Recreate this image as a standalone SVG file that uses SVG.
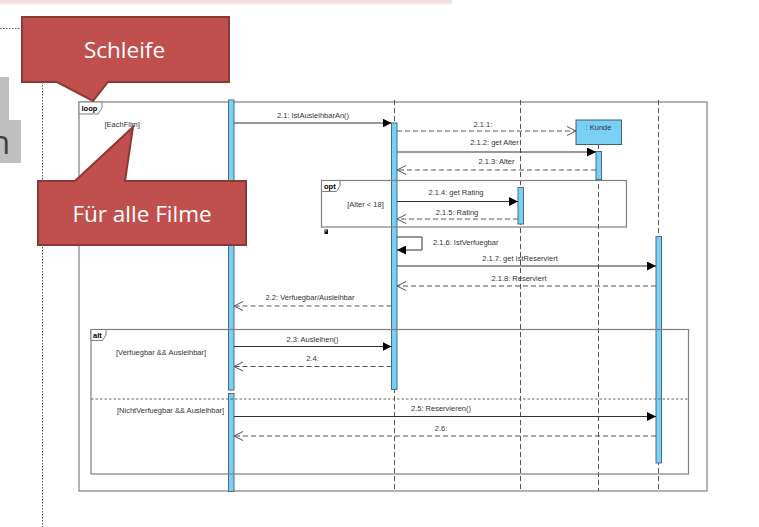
<svg xmlns="http://www.w3.org/2000/svg" width="759" height="527" viewBox="0 0 759 527">
<defs>
<style>
.frame{fill:none;stroke:#7f7f7f;stroke-width:1.2}
.tab{fill:#fff;stroke:#7f7f7f;stroke-width:1}
.tabt{font-family:"Liberation Sans",Arial,sans-serif;font-size:7.5px;font-weight:bold;fill:#000}
.lbl{font-family:"Liberation Sans",Arial,sans-serif;font-size:7.5px;fill:#333;text-anchor:middle}
.lbll{font-family:"Liberation Sans",Arial,sans-serif;font-size:7.5px;fill:#333}
.life{stroke:#555;stroke-width:1;stroke-dasharray:5 3;fill:none}
.bar{fill:#7acff5;stroke:#4a6f85;stroke-width:1}
.sync{stroke:#333;stroke-width:1;fill:none;marker-end:url(#filled)}
.reply{stroke:#555;stroke-width:1;stroke-dasharray:5 3;fill:none;marker-end:url(#open)}
.call{fill:#c0504d;stroke:#8c3836;stroke-width:2}
.callt{font-family:"Open Sans","Noto Sans",sans-serif;font-size:22.5px;fill:#fff;text-anchor:middle}
</style>
<marker id="filled" viewBox="0 0 10 10" refX="10" refY="5" markerWidth="9" markerHeight="9" markerUnits="userSpaceOnUse" orient="auto">
<path d="M0,0 L10,5 L0,10 Z" fill="#000"/>
</marker>
<marker id="open" viewBox="0 0 10 10" refX="0" refY="5" markerWidth="9" markerHeight="9" markerUnits="userSpaceOnUse" orient="auto-start-reverse">
<path d="M10,0 L0,5 L10,10" fill="none" stroke="#555" stroke-width="1"/>
</marker>
</defs>
<rect width="759" height="527" fill="#fff"/>
<rect x="0" y="0" width="452" height="3" fill="#f2dede"/>
<rect x="0" y="3" width="452" height="2" fill="#f9eeee"/>

<g id="background-left">
<path d="M0,28.5 H42.5 V527" fill="none" stroke="#555" stroke-width="1" stroke-dasharray="1.5 1.5"/>
<path d="M0,77 H9 V120 H21 V163 H0 Z" fill="#bfbfbf"/>
<text x="-10" y="154" font-family="Open Sans, Noto Sans, sans-serif" font-size="33" fill="#404040">n</text>
</g>

<g id="loop-frame">
<rect class="frame" x="79" y="102" width="628" height="389"/>
<path class="tab" d="M79,102 H102 V108 L98,114 H79 Z"/>
<text class="tabt" x="81.5" y="111">loop</text>
<text class="lbll" x="104.5" y="127">[EachFilm]</text>
</g>

<g id="lifeline-1">
<rect class="bar" x="228.5" y="100" width="5.5" height="290"/>
<rect class="bar" x="228.5" y="393.5" width="5.5" height="98"/>
</g>
<g id="lifeline-2">
<line class="life" x1="394.5" y1="100" x2="394.5" y2="491"/>
<rect class="bar" x="391.5" y="123" width="5.5" height="266.5"/>
</g>
<g id="lifeline-3">
<line class="life" x1="520.5" y1="100" x2="520.5" y2="491"/>
<rect class="bar" x="518" y="187.5" width="5.5" height="36.5"/>
</g>
<g id="lifeline-kunde">
<line class="life" x1="598.5" y1="144" x2="598.5" y2="491"/>
<rect x="576" y="120" width="45.5" height="24.5" fill="#7acff5" stroke="#3f5f7a" stroke-width="1"/>
<text class="lbl" x="598.5" y="129.5">: Kunde</text>
<rect class="bar" x="596" y="151.5" width="5.5" height="28"/>
</g>
<g id="lifeline-5">
<line class="life" x1="658.5" y1="100" x2="658.5" y2="491"/>
<rect class="bar" x="656" y="236.5" width="5.5" height="226.5"/>
</g>

<g id="opt-frame">
<rect class="frame" x="321.5" y="180.5" width="305" height="46.5" fill="none"/>
<path class="tab" d="M321.5,180.5 H340 V186 L336.5,191.5 H321.5 Z"/>
<text class="tabt" x="324" y="189">opt</text>
<text class="lbl" x="365.5" y="206.5">[Alter &lt; 18]</text>
<rect x="324.5" y="229.5" width="3.5" height="4.5" fill="#111"/>
<rect x="325.3" y="230.2" width="1.2" height="1.2" fill="#fff"/>
</g>

<g id="alt-frame">
<rect class="frame" x="91" y="329.5" width="597.5" height="144.5"/>
<path class="tab" d="M91,329.5 H106 V335 L102.5,340.5 H91 Z"/>
<text class="tabt" x="93" y="338">alt</text>
<line x1="91" y1="399" x2="688.5" y2="399" stroke="#666" stroke-width="1" stroke-dasharray="2.5 2"/>
<text class="lbll" x="116" y="355">[Verfuegbar &amp;&amp; Ausleihbar]</text>
<text class="lbll" x="117" y="413">[NichtVerfuegbar &amp;&amp; Ausleihbar]</text>
</g>

<g id="connectors">
<line class="sync" x1="234" y1="123" x2="391.5" y2="123"/>
<text class="lbl" x="313" y="118">2.1: IstAusleihbarAn()</text>
<line class="reply" x1="397" y1="131" x2="576" y2="131" marker-end="url(#open)" style="marker-end:none"/>
<path d="M567,126.5 L576,131 L567,135.5" fill="none" stroke="#555" stroke-width="1"/>
<text class="lbl" x="483" y="127">2.1.1:</text>
<line class="sync" x1="397" y1="152" x2="596" y2="152"/>
<text class="lbl" x="494.5" y="145">2.1.2: get Alter</text>
<line class="reply" x1="596" y1="170" x2="397" y2="170" style="marker-end:none"/>
<path d="M406,165.5 L397,170 L406,174.5" fill="none" stroke="#555" stroke-width="1"/>
<text class="lbl" x="496.5" y="164">2.1.3: Alter</text>
<line class="sync" x1="397" y1="201.5" x2="518" y2="201.5"/>
<text class="lbl" x="456" y="195">2.1.4: get Rating</text>
<line class="reply" x1="518" y1="219" x2="397" y2="219" style="marker-end:none"/>
<path d="M406,214.5 L397,219 L406,223.5" fill="none" stroke="#555" stroke-width="1"/>
<text class="lbl" x="457" y="215">2.1.5: Rating</text>
<path d="M397,237 H422 V250 H397" fill="none" stroke="#333" stroke-width="1" marker-end="url(#filled)"/>
<text class="lbll" x="433" y="245">2.1.6: IstVerfuegbar</text>
<line class="sync" x1="397" y1="266" x2="656" y2="266"/>
<text class="lbl" x="520" y="261">2.1.7: get IstReserviert</text>
<line class="reply" x1="656" y1="286" x2="397" y2="286" style="marker-end:none"/>
<path d="M406,281.5 L397,286 L406,290.5" fill="none" stroke="#555" stroke-width="1"/>
<text class="lbl" x="519" y="281">2.1.8: Reserviert</text>
<line class="reply" x1="391.5" y1="306" x2="234" y2="306" style="marker-end:none"/>
<path d="M243,301.5 L234,306 L243,310.5" fill="none" stroke="#555" stroke-width="1"/>
<text class="lbl" x="310" y="300">2.2: Verfuegbar/Ausleihbar</text>
<line class="sync" x1="234" y1="346.5" x2="391.5" y2="346.5"/>
<text class="lbl" x="312.5" y="342">2.3: Ausleihen()</text>
<line class="reply" x1="391.5" y1="366.5" x2="234" y2="366.5" style="marker-end:none"/>
<path d="M243,362 L234,366.5 L243,371" fill="none" stroke="#555" stroke-width="1"/>
<text class="lbl" x="312.5" y="361">2.4:</text>
<line class="sync" x1="234" y1="416.5" x2="656" y2="416.5"/>
<text class="lbl" x="441" y="411">2.5: Reservieren()</text>
<line class="reply" x1="656" y1="436" x2="234" y2="436" style="marker-end:none"/>
<path d="M243,431.5 L234,436 L243,440.5" fill="none" stroke="#555" stroke-width="1"/>
<text class="lbl" x="441" y="431">2.6:</text>
</g>

<g id="callout-schleife">
<path class="call" d="M22,17 H229 V82 H108 L93,101 L57,82 H22 Z"/>
<text class="callt" x="124.5" y="58">Schleife</text>
</g>
<g id="callout-filme">
<path class="call" d="M38,181 H75 L133,127 L125,181 H246 V245 H38 Z"/>
<text class="callt" x="142" y="221.5">Für alle Filme</text>
</g>
</svg>
